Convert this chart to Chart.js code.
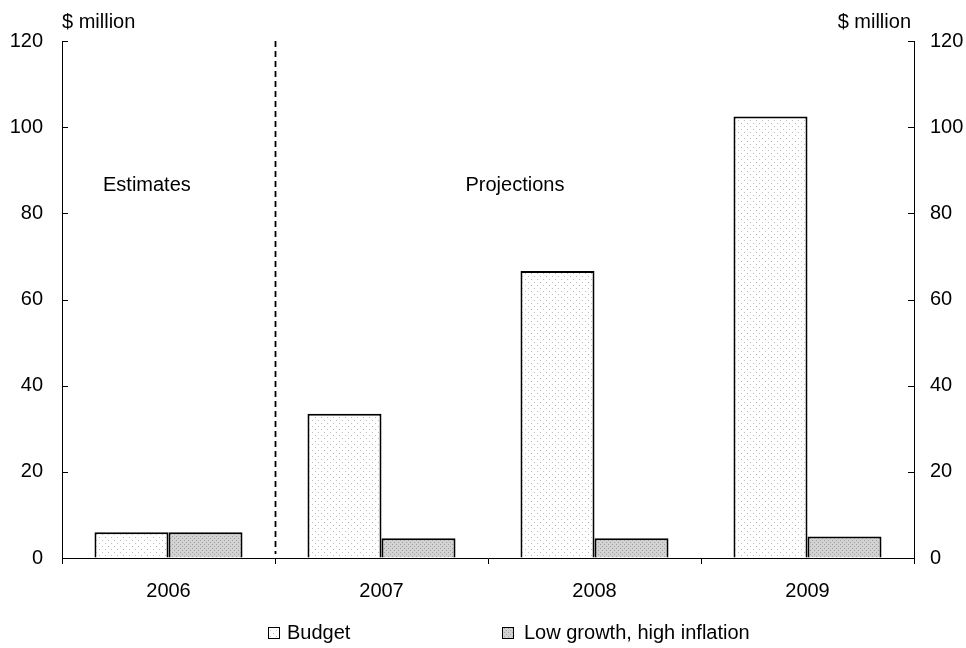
<!DOCTYPE html>
<html><head><meta charset="utf-8">
<script src="https://cdn.jsdelivr.net/npm/chart.js@4.4.0/dist/chart.umd.min.js"></script>
<style>html,body{margin:0;padding:0;background:#fff}#wrap{width:966px;height:648px}</style>
</head><body><div id="wrap"><canvas id="c" width="966" height="648"></canvas></div>
<script>
// Data
const years = ['2006', '2007', '2008', '2009'];
const budget = [6.0, 33.5, 66.6, 102.5];
const lowGrowth = [6.0, 4.6, 4.6, 5.0];
const yTicks = [0, 20, 40, 60, 80, 100, 120];
const seriesNames = ['Budget', 'Low growth, high inflation'];
const unitLabel = '$ million';
const periodLabels = ['Estimates', 'Projections'];

const FONT = 'Liberation Sans, Arial, sans-serif';

// Dotted fills for the bars
function dotPattern(bg, dot, size, dots) {
  const c = document.createElement('canvas');
  c.width = size; c.height = size;
  const g = c.getContext('2d');
  g.fillStyle = bg; g.fillRect(0, 0, size, size);
  g.fillStyle = dot;
  dots.forEach(([x, y]) => g.fillRect(x, y, 1, 1));
  return g.createPattern(c, 'repeat');
}
const ctx = document.getElementById('c').getContext('2d');
const budgetFill = dotPattern('#ffffff', '#bdbdbd', 6, [[0, 0], [3, 3]]);
const lowFill = dotPattern('#d2d2d2', '#a0a0a0', 4, [[0, 0], [2, 2]]);
const fills = [budgetFill, lowFill];

const decorations = {
  id: 'decorations',
  afterDraw(chart) {
    const { ctx, chartArea: a, scales } = chart;
    const x = scales.x;
    ctx.save();
    // inward ticks on both value axes
    ctx.strokeStyle = '#000'; ctx.lineWidth = 1;
    yTicks.forEach(v => {
      const py = Math.round(scales.y.getPixelForValue(v)) + 0.5;
      ctx.beginPath(); ctx.moveTo(a.left, py); ctx.lineTo(a.left + 6, py); ctx.stroke();
      ctx.beginPath(); ctx.moveTo(a.right - 6, py); ctx.lineTo(a.right, py); ctx.stroke();
    });
    // dashed divider between estimates and projections
    const dx = Math.round((x.getPixelForValue(0) + x.getPixelForValue(1)) / 2) + 0.5;
    ctx.setLineDash([6, 4]); ctx.lineWidth = 1.8;
    ctx.beginPath(); ctx.moveTo(dx, a.top); ctx.lineTo(dx, a.bottom - 4); ctx.stroke();
    ctx.setLineDash([]);
    // text annotations
    ctx.fillStyle = '#000';
    ctx.font = '20px ' + FONT;
    ctx.textBaseline = 'middle';
    ctx.textAlign = 'left';
    ctx.fillText(unitLabel, a.left, 22);
    ctx.textAlign = 'right';
    ctx.fillText(unitLabel, a.right - 3, 22);
    ctx.textAlign = 'left';
    ctx.fillText(periodLabels[0], a.left + 41, 185);
    ctx.fillText(periodLabels[1], dx + 190, 185);
    // legend
    const items = [[268, 287], [502, 524]];
    items.forEach(([bx, tx], i) => {
      ctx.fillStyle = fills[i];
      ctx.fillRect(bx, 627, 12, 12);
      ctx.strokeStyle = '#000'; ctx.lineWidth = 1;
      ctx.strokeRect(bx + 0.5, 627.5, 11, 11);
      ctx.fillStyle = '#000';
      ctx.fillText(seriesNames[i], tx, 633);
    });
    ctx.restore();
  }
};

const axisFont = { family: FONT, size: 20 };
new Chart(ctx, {
  type: 'bar',
  data: {
    labels: years,
    datasets: [
      { label: seriesNames[0], data: budget, backgroundColor: budgetFill, borderColor: '#000', borderWidth: 2, categoryPercentage: 0.695, barPercentage: 1 },
      { label: seriesNames[1], data: lowGrowth, backgroundColor: lowFill, borderColor: '#000', borderWidth: 2, categoryPercentage: 0.695, barPercentage: 1 }
    ]
  },
  options: {
    responsive: false,
    animation: false,
    devicePixelRatio: 1,
    layout: { padding: { top: 41, left: 0, right: 0, bottom: 0 } },
    plugins: { legend: { display: false }, tooltip: { enabled: false } },
    scales: {
      x: {
        grid: { offset: true, drawOnChartArea: false, drawTicks: true, tickLength: 6, color: '#000' },
        border: { display: true, color: '#000', width: 1 },
        ticks: { color: '#000', font: axisFont, padding: 15 },
        afterFit(s) { s.height = 90; }
      },
      y: {
        position: 'left', min: 0, max: 120,
        grid: { drawOnChartArea: false, drawTicks: false },
        border: { display: true, color: '#000', width: 1 },
        ticks: { color: '#000', font: axisFont, padding: 19 },
        afterBuildTicks(s) { s.ticks = yTicks.map(v => ({ value: v })); },
        afterFit(s) { s.width = 62; }
      },
      y2: {
        position: 'right', min: 0, max: 120, display: true,
        grid: { drawOnChartArea: false, drawTicks: false },
        border: { display: true, color: '#000', width: 1 },
        ticks: { color: '#000', font: axisFont, padding: 16 },
        afterBuildTicks(s) { s.ticks = yTicks.map(v => ({ value: v })); },
        afterFit(s) { s.width = 52; }
      }
    }
  },
  plugins: [decorations]
});
</script>
</body></html>
